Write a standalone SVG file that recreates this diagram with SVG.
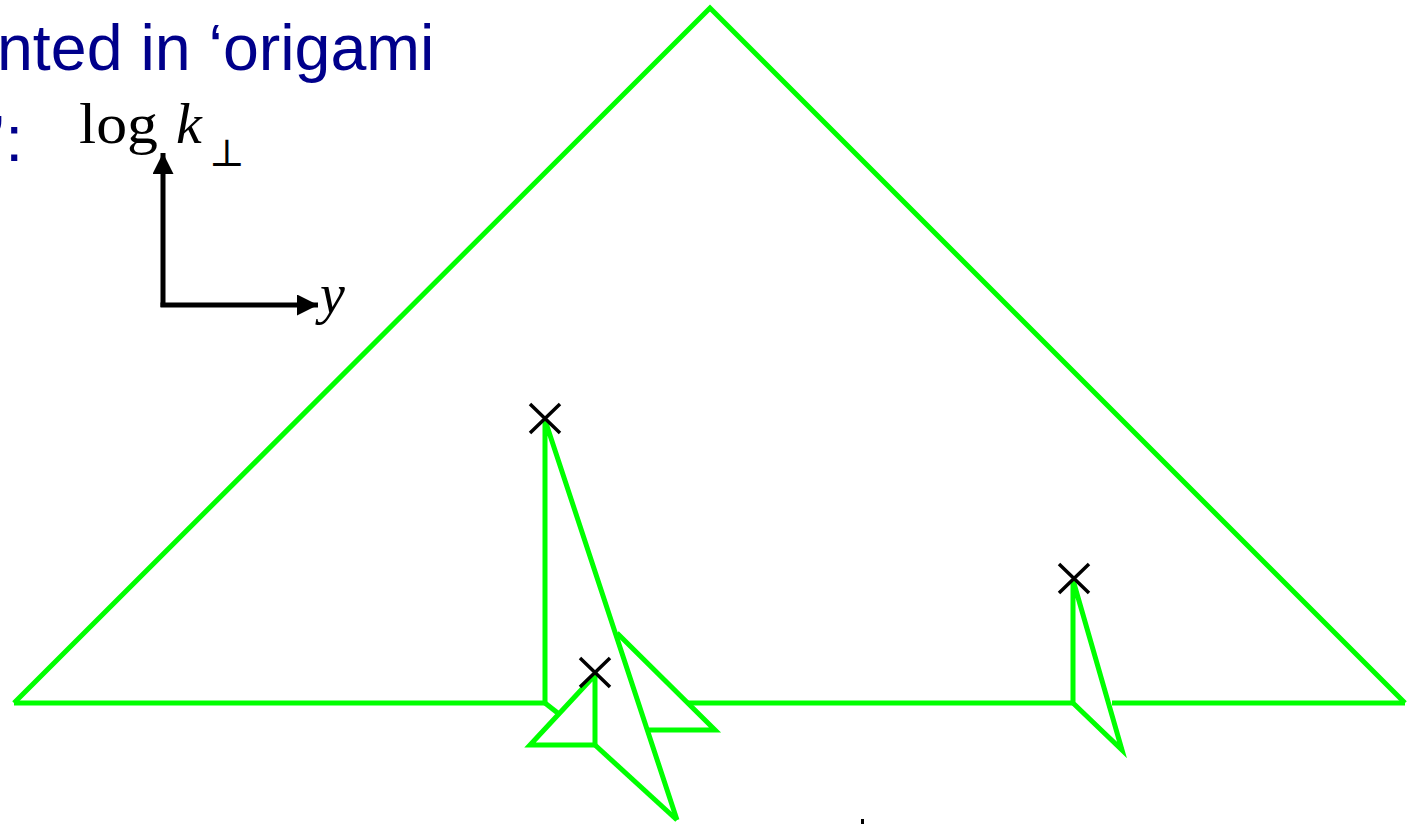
<svg xmlns="http://www.w3.org/2000/svg" width="1408" height="824" viewBox="0 0 1408 824">
  <style>
    .fold { fill: none; stroke: #00ff00; stroke-width: 5; stroke-linejoin: miter; stroke-linecap: butt; }
    .mark { fill: none; stroke: #000; stroke-width: 3.5; }
    .axis { fill: none; stroke: #000; stroke-width: 5; }
    .title { font-family: "Liberation Sans", Arial, sans-serif; font-size: 64.5px; fill: #00008b; }
    .math { font-family: "Liberation Serif", "Times New Roman", serif; fill: #000; }
  </style>
  <defs>
    <marker id="arrow" viewBox="0 0 10 10" refX="10" refY="5" markerWidth="4.6" markerHeight="4.2" markerUnits="strokeWidth" orient="auto">
      <path d="M0,0 L10,5 L0,10 Z" fill="#000"/>
    </marker>
  </defs>

  <g id="title-text">
    <text class="title" x="-3" y="70">nted in ‘origami</text>
    <text class="title" x="-9" y="161">’:</text>
  </g>

  <g id="axes">
    <path class="axis" d="M163,307 V153" marker-end="url(#arrow)"/>
    <path class="axis" d="M160.5,305 H318" marker-end="url(#arrow)"/>
    <text class="math" x="79" y="143" font-size="58" textLength="79" lengthAdjust="spacingAndGlyphs">log</text>
    <text class="math" x="176" y="143" font-size="58" font-style="italic">k</text>
    <text x="209" y="166" font-family="'DejaVu Serif', serif" font-size="38" fill="#000">⊥</text>
    <text class="math" x="320" y="313" font-size="56" font-style="italic">y</text>
  </g>

  <g id="connectors">
    <path class="fold" d="M14,703 L710,8 L1405,703"/>
    <path class="fold" d="M14,703 H545 M688,703 H1073 M1112,703 H1405"/>
  </g>

  <g id="fold-1">
    <path class="fold" d="M545,703 V420 L677,820"/>
    <path class="fold" d="M545,703 L559,714"/>
    <path class="fold" d="M617,633 L715,730 H648"/>
    <path class="fold" d="M595,675 L530,745 H595 Z"/>
    <path class="fold" d="M595,745 L677,820"/>
  </g>

  <g id="fold-2">
    <path class="fold" d="M1073,703 V580 L1122,750 Z"/>
  </g>

  <g id="markers">
    <path class="mark" d="M530,404 L560,433 M560,404 L530,433"/>
    <path class="mark" d="M580,658 L610,687 M610,658 L580,687"/>
    <path class="mark" d="M1059,564 L1089,593 M1089,564 L1059,593"/>
  </g>

  <rect x="861" y="819" width="3" height="5" fill="#000"/>
</svg>
